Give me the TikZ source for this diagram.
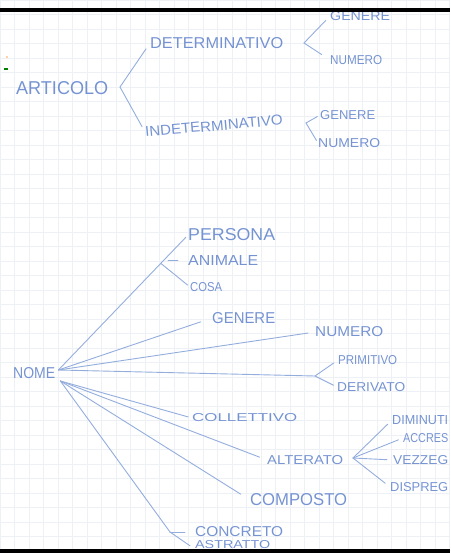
\documentclass[tikz,border=0pt]{standalone}
\usepackage{fontspec}
\setmainfont{Liberation Sans}
\usepackage{graphicx}
\usepackage{tikz}
\usetikzlibrary{calc}
\definecolor{PenBlue}{HTML}{7593D2}
\definecolor{InkBlue}{HTML}{93ADDD}
\definecolor{GridGrey}{HTML}{EDF0F4}
\newcommand{\hw}[3]{\resizebox{#1pt}{#2pt}{#3}}

\begin{document}
\begin{tikzpicture}[x=1pt, y=-1pt,
hand/.style={
	text=PenBlue,
	inner sep=0pt,
	anchor=west
},
pen/.style={
	InkBlue,
	line width=0.9pt,
	line cap=round
},
gridline/.style={GridGrey, line width=0.5pt},
]
\useasboundingbox (0,0) rectangle (450,553);
\clip (0,0) rectangle (450,553);

% squared paper
\foreach \gx in {0,14.5,...,450} \draw[gridline] (\gx,0) to (\gx,553);
\foreach \gy in {0,14.5,...,553} \draw[gridline] (0,\gy) to (450,\gy);
\fill[orange!70] (7,57) circle (0.8);
\fill[green!50!black] (4,68.5) rectangle (7.5,70.5);

% articolo
\node[hand] (articolo) at (16,88) {\hw{92}{13}{ARTICOLO}};
\node[hand] (determ) at (150,43) {\hw{133}{11}{DETERMINATIVO}};
\node[hand, rotate=5] (indeterm) at (145,132) {\hw{138}{10}{INDETERMINATIVO}};
\node[hand] (detgen) at (330,16) {\hw{60}{9}{GENERE}};
\node[hand] (detnum) at (330,60) {\hw{52}{9}{NUMERO}};
\node[hand] (indgen) at (320,115) {\hw{55}{9}{GENERE}};
\node[hand] (indnum) at (318,143) {\hw{62}{9}{NUMERO}};
\coordinate (artb) at (120,87);
\coordinate (detb) at (304,43);
\coordinate (indb) at (306,123);

\draw[pen, shorten >=7pt] (artb) to (determ.west);
\draw[pen, shorten >=6pt] (artb) to (indeterm.west);
\draw[pen, shorten >=6pt] (detb) to (detgen.west);
\draw[pen, shorten >=10pt] (detb) to (detnum.west);
\draw[pen, shorten >=3pt] (indb) to (indgen.west);
\draw[pen, shorten >=3pt] (indb) to (indnum.west);

% nome
\node[hand] (nome) at (13,373) {\hw{42}{11}{NOME}};
\coordinate (hub) at ($(nome.east)+(3,-3)$);
\coordinate (hubl) at ($(nome.east)+(5,8)$);
\node[hand] (persona) at (188,235) {\hw{87}{12}{PERSONA}};
\node[hand] (animale) at (188,260) {\hw{70}{10}{ANIMALE}};
\node[hand] (cosa) at (190,287) {\hw{32}{9}{COSA}};
\node[hand] (genere) at (212,318) {\hw{63}{11}{GENERE}};
\node[hand] (numero) at (315,332) {\hw{68}{10}{NUMERO}};
\node[hand] (primitivo) at (338,360) {\hw{59}{9}{PRIMITIVO}};
\node[hand] (derivato) at (337,387) {\hw{68}{9}{DERIVATO}};
\node[hand] (collettivo) at (192,418) {\hw{105}{8}{COLLETTIVO}};
\node[hand] (alterato) at (267,460) {\hw{76}{9}{ALTERATO}};
\node[hand] (diminutivo) at (392,420) {\hw{56}{9}{DIMINUTI}};
\node[hand] (accrescitivo) at (403,438) {\hw{45}{9}{ACCRES}};
\node[hand] (vezzeggiativo) at (393,460) {\hw{55}{9}{VEZZEG}};
\node[hand] (dispregiativo) at (390,487) {\hw{58}{9}{DISPREG}};
\node[hand] (composto) at (250,500) {\hw{97}{12}{COMPOSTO}};
\node[hand] (concreto) at (195,532) {\hw{88}{10}{CONCRETO}};
\node[hand] (astratto) at (195,545) {\hw{75}{8}{ASTRATTO}};

\coordinate (pb) at ($(hub)!0.79!(persona.west)$);
\coordinate (anit) at (168,260);
\coordinate (pr) at (315,376);
\coordinate (altb) at (353,458);
\coordinate (cb) at (170,532);

\draw[pen, shorten >=3pt] (hub) to (persona.west);
\draw[pen, shorten >=10pt] (anit) to (animale.west);
\draw[pen, shorten >=3pt] (pb) to (cosa.west);
\draw[pen, shorten >=12pt] (hub) to (genere.west);
\draw[pen, shorten >=7pt] (hub) to (numero.west);
\draw[pen] (hub) to (pr);
\draw[pen, shorten >=5pt] (pr) to (primitivo.west);
\draw[pen, shorten >=4pt] (pr) to (derivato.west);
\draw[pen, shorten >=4pt] (hubl) to (collettivo.west);
\draw[pen, shorten >=8pt] (hubl) to (alterato.west);
\draw[pen, shorten >=6pt] (altb) to (diminutivo.west);
\draw[pen, shorten >=5pt] (altb) to (accrescitivo.west);
\draw[pen, shorten >=6pt] (altb) to (vezzeggiativo.west);
\draw[pen, shorten >=6pt] (altb) to (dispregiativo.west);
\draw[pen, shorten >=11pt] (hubl) to (composto.west);
\draw[pen] (hubl) to (cb);
\draw[pen, shorten >=10pt] (cb) to (concreto.west);
\draw[pen, shorten >=6pt] (cb) to (astratto.south west);

% frame
\fill[black] (0,8.5) rectangle (450,12.5);
\fill[black] (0,549) rectangle (450,553);
\end{tikzpicture}
\end{document}
